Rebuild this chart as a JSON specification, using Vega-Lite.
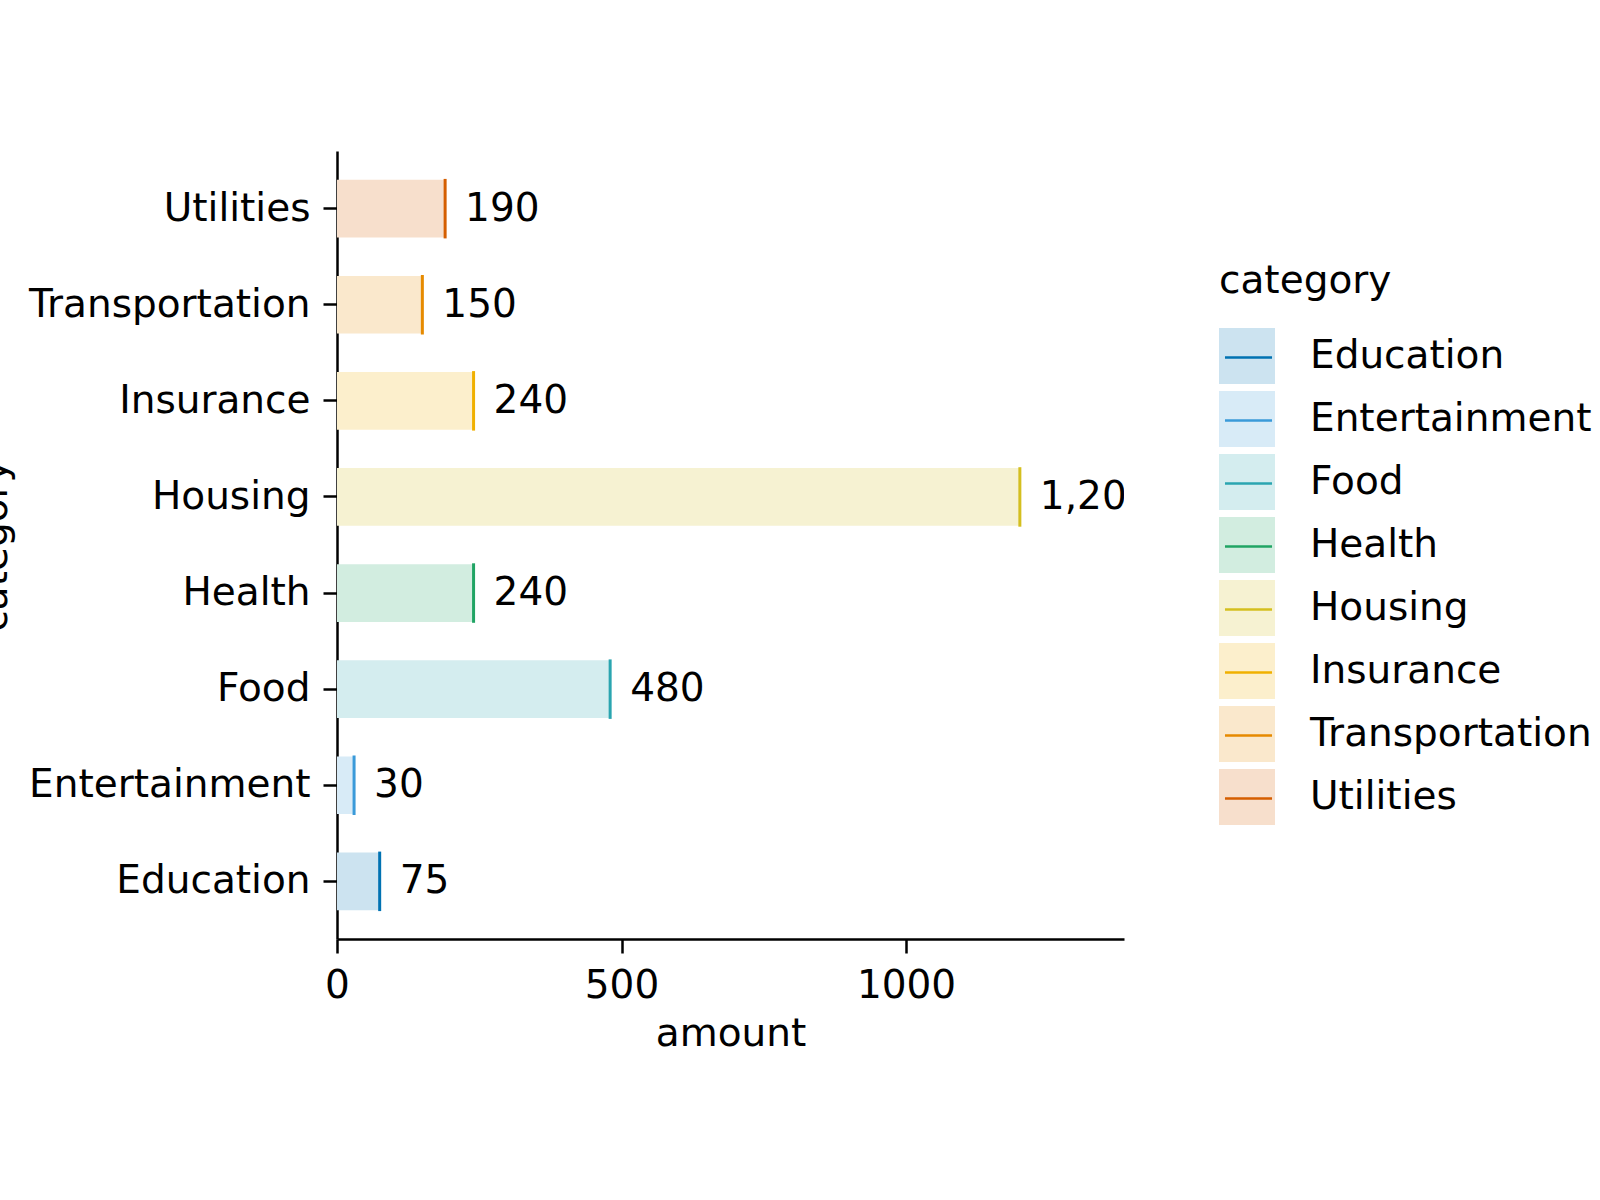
{
  "$schema": "https://vega.github.io/schema/vega-lite/v6.json",
  "width": 787,
  "height": 788,
  "autosize": "none",
  "padding": {"left": 337, "top": 151, "right": 476, "bottom": 261},
  "background": "white",
  "config": {
    "font": "DejaVu Sans",
    "view": {"stroke": null},
    "axis": {
      "labelFont": "DejaVu Sans",
      "titleFont": "DejaVu Sans",
      "labelFontSize": 39,
      "titleFontSize": 39,
      "titleFontWeight": "normal",
      "labelColor": "black",
      "titleColor": "black",
      "domainColor": "black",
      "tickColor": "black",
      "domainWidth": 2.5,
      "tickWidth": 2.5,
      "tickSize": 14,
      "labelPadding": 13,
      "labelLimit": 0,
      "labelFlush": false,
      "grid": false
    },
    "legend": {
      "labelFont": "DejaVu Sans",
      "titleFont": "DejaVu Sans",
      "labelFontSize": 39,
      "titleFontSize": 39,
      "titleFontWeight": "normal",
      "labelColor": "black",
      "titleColor": "black",
      "labelLimit": 0
    }
  },
  "data": {
    "values": [
      {"category": "Education", "amount": 75},
      {"category": "Entertainment", "amount": 30},
      {"category": "Food", "amount": 480},
      {"category": "Health", "amount": 240},
      {"category": "Housing", "amount": 1200},
      {"category": "Insurance", "amount": 240},
      {"category": "Transportation", "amount": 150},
      {"category": "Utilities", "amount": 190}
    ]
  },
  "encoding": {
    "y": {
      "field": "category",
      "type": "nominal",
      "sort": "descending",
      "scale": {"paddingInner": 0.4, "paddingOuter": 0.3},
      "axis": {
        "title": "category",
        "titleX": -323,
        "titleY": 394,
        "titleAngle": 270,
        "titleAlign": "center",
        "titleBaseline": "bottom"
      }
    }
  },
  "layer": [
    {
      "mark": {"type": "bar"},
      "encoding": {
        "x": {
          "field": "amount",
          "type": "quantitative",
          "scale": {"domain": [0, 1383], "nice": false},
          "axis": {"title": "amount", "values": [0, 500, 1000], "format": "d", "titlePadding": 9}
        },
        "fill": {
          "field": "category",
          "type": "nominal",
          "scale": {
            "domain": ["Education", "Entertainment", "Food", "Health", "Housing", "Insurance", "Transportation", "Utilities"],
            "range": ["#CCE3F0", "#D8EBF7", "#D4EDEF", "#D2EDE0", "#F6F2D2", "#FCEFCC", "#FAE8CC", "#F7DFCC"]
          },
          "legend": {
            "orient": "none",
            "legendX": 882,
            "legendY": 111,
            "title": "category",
            "symbolType": "square",
            "symbolSize": 3136,
            "symbolStrokeWidth": 0,
            "symbolOpacity": 1,
            "rowPadding": 7,
            "labelOffset": 35,
            "titlePadding": 27
          }
        }
      }
    },
    {
      "mark": {"type": "tick", "orient": "vertical", "size": 57, "thickness": 0.5, "filled": false, "strokeWidth": 2.5, "opacity": 1},
      "encoding": {
        "x": {"field": "amount", "type": "quantitative"},
        "stroke": {
          "field": "category",
          "type": "nominal",
          "scale": {
            "domain": ["Education", "Entertainment", "Food", "Health", "Housing", "Insurance", "Transportation", "Utilities"],
            "range": ["#0072B2", "#3A9AD9", "#2AA5B0", "#20A464", "#D4BF1F", "#F0B000", "#E68A00", "#D55E00"]
          },
          "legend": {
            "orient": "none",
            "legendX": 882,
            "legendY": 111,
            "title": "category",
            "titleOpacity": 0,
            "labelOpacity": 0,
            "symbolType": "M-0.84,0H0.84M-1,-1L-1,-1M1,1L1,1",
            "symbolSize": 3136,
            "symbolStrokeWidth": 2.5,
            "symbolOpacity": 1,
            "rowPadding": -4,
            "labelOffset": 35,
            "titlePadding": 27
          }
        }
      }
    },
    {
      "mark": {"type": "text", "align": "left", "baseline": "middle", "dx": 20, "fontSize": 39, "font": "DejaVu Sans", "color": "black", "clip": true},
      "encoding": {
        "x": {"field": "amount", "type": "quantitative"},
        "text": {"field": "amount", "type": "quantitative", "format": ","}
      }
    }
  ],
  "resolve": {"scale": {"fill": "independent", "stroke": "independent"}}
}
